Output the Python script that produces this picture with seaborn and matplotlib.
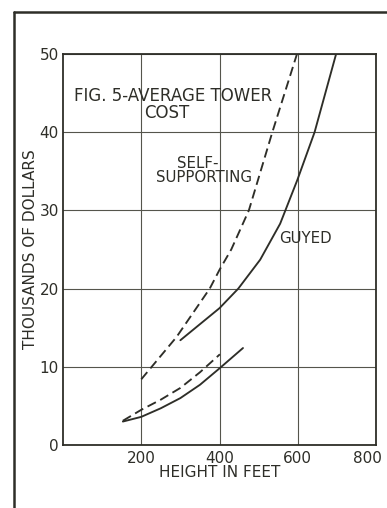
import matplotlib
matplotlib.use("Agg")
import matplotlib.pyplot as plt
import matplotlib.transforms as mtransforms
import seaborn as sns
import pandas as pd

# Height (ft) vs. cost (thousands of dollars) for the four tower curves
self_tall_height = [200, 290, 375, 400, 430, 475, 535, 598]
self_tall_cost = [8.4, 13.8, 20.0, 22.4, 25.0, 30.0, 40.0, 50.0]

guyed_tall_height = [300, 400, 448, 504, 555, 599, 643, 698]
guyed_tall_cost = [13.4, 17.5, 20.0, 23.7, 28.3, 33.9, 40.0, 50.0]

self_short_height = [153, 200, 250, 300, 350, 401]
self_short_cost = [3.1, 4.5, 5.8, 7.3, 9.3, 11.6]

guyed_short_height = [153, 200, 250, 300, 350, 400, 460]
guyed_short_cost = [3.0, 3.6, 4.7, 6.0, 7.7, 9.8, 12.4]

x_ticks = [200, 400, 600, 800]
y_ticks = [0, 10, 20, 30, 40, 50]

ink = "#2e2e28"

sns.set_style("white")
plt.rcParams["font.family"] = ["DejaVu Sans"]

fig = plt.figure(figsize=(3.87, 5.08), dpi=100)
ax = fig.add_axes([0.1628, 0.124, 0.8088, 0.7697])

dash = (0, (5, 2.6))
series = [
    (self_tall_height, self_tall_cost, dash),
    (guyed_tall_height, guyed_tall_cost, "-"),
    (self_short_height, self_short_cost, dash),
    (guyed_short_height, guyed_short_cost, "-"),
]
for hx, cy, ls in series:
    df = pd.DataFrame({"height": hx, "cost": cy})
    sns.lineplot(data=df, x="height", y="cost", ax=ax, color=ink,
                 linewidth=1.35, linestyle=ls, sort=True)

ax.set_xlim(0, 800)
ax.set_ylim(0, 50)
ax.set_xticks(x_ticks)
ax.set_yticks(y_ticks)
ax.tick_params(axis="both", length=0, labelsize=11, colors=ink)
ax.tick_params(axis="y", pad=3)
ax.tick_params(axis="x", pad=4)
ax.grid(True, color="#55554c", linewidth=0.8)
for s in ax.spines.values():
    s.set_color(ink)
    s.set_linewidth(1.3)
    s.set_visible(True)

# the last x label sits just inside the page edge
last = ax.get_xticklabels()[-1]
last.set_transform(last.get_transform() +
                   mtransforms.ScaledTranslation(-9 / 100, 0, fig.dpi_scale_trans))

ax.set_xlabel("HEIGHT IN FEET", fontsize=11, color=ink)
ax.set_ylabel("THOUSANDS OF DOLLARS", fontsize=11, color=ink)
ax.xaxis.set_label_coords(0.5, -0.05)
ax.yaxis.set_label_coords(-0.08, 0.5)

ax.text(0.353, 0.8926, "FIG. 5-AVERAGE TOWER", transform=ax.transAxes,
        ha="center", va="center", fontsize=12, color=ink)
ax.text(0.332, 0.849, "COST", transform=ax.transAxes,
        ha="center", va="center", fontsize=12, color=ink)
ax.text(0.432, 0.721, "SELF-", transform=ax.transAxes,
        ha="center", va="center", fontsize=10.8, color=ink)
ax.text(0.452, 0.683, "SUPPORTING", transform=ax.transAxes,
        ha="center", va="center", fontsize=10.8, color=ink)
ax.text(0.775, 0.527, "GUYED", transform=ax.transAxes,
        ha="center", va="center", fontsize=10.8, color=ink)

# page border lines along the top and left
fig.add_artist(plt.Line2D([14 / 387, 1.0], [1 - 12 / 508, 1 - 12 / 508],
                          transform=fig.transFigure, color=ink, linewidth=1.8))
fig.add_artist(plt.Line2D([14 / 387, 14 / 387], [0.0, 1 - 12 / 508],
                          transform=fig.transFigure, color=ink, linewidth=1.8))

fig.savefig("out.png", dpi=100)
